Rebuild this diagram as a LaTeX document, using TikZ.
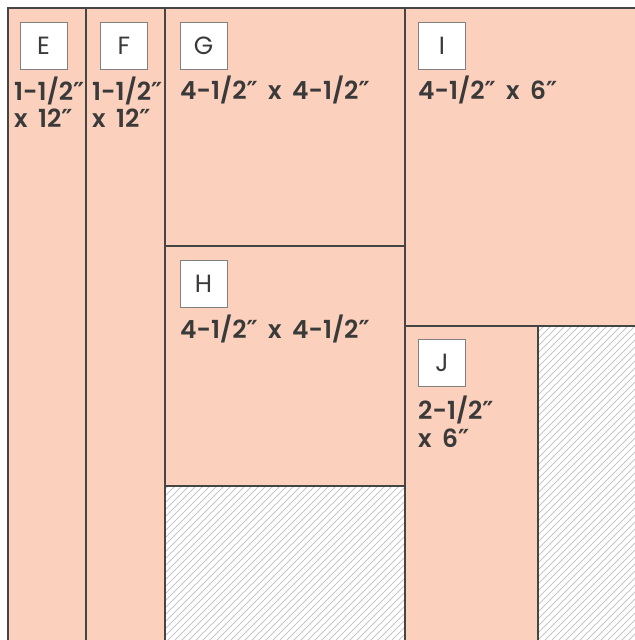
\documentclass[tikz,border=0pt]{standalone}
\usepackage{fontspec}
\setmainfont{Poppins}[BoldFont={Poppins SemiBold}]
\newfontfamily\primefont{DejaVu Sans}
\usetikzlibrary{positioning}
\definecolor{peach}{HTML}{FBD0BD}
\definecolor{edge}{HTML}{454545}
\definecolor{ink}{HTML}{3A3A3A}
\definecolor{hatch}{HTML}{C8C8C8}
\newcommand\inch{{\primefont ″}}
\newcommand\widespace{\spaceskip=0.42em\relax}

\begin{document}
\begin{tikzpicture}[
  x=1bp, y=-1bp,
  piece/.style={draw=edge, fill=peach, line width=1.2bp},
  tag/.style={draw=gray, fill=white, line width=0.8bp, minimum size=47bp, inner sep=0pt, font=\fontsize{25}{28}\selectfont, text=ink},
  dim/.style={anchor=base west, align=left, inner sep=0pt, font=\bfseries\fontsize{25}{28}\selectfont\widespace, text=ink},
  hatchline/.style={draw=hatch, line width=0.9bp},
]
\useasboundingbox (0,0) rectangle (635,640);

% Scrap (hatched)
\begin{scope}
  \clip (165,486) rectangle (405,641);
  \foreach \k in {-250,-243,...,250}
    \draw[hatchline] (165+\k,641) -- +(300,-300);
\end{scope}
\begin{scope}
  \clip (538,326) rectangle (636,641);
  \foreach \k in {-330,-323,...,110}
    \draw[hatchline] (538+\k,641) -- +(330,-330);
\end{scope}

% Pieces
\draw[piece] (8,8) rectangle (86,641);
\draw[piece] (86,8) rectangle (165,641);
\draw[piece] (165,8) rectangle (405,246);
\draw[piece] (165,246) rectangle (405,486);
\draw[piece] (405,8) rectangle (636,326);
\draw[piece] (405,326) rectangle (538,641);

% Tags
\node[tag] (tagE) at (43.5,45.5) {E};
\node[tag] (tagF) at (124,45.5) {F};
\node[tag] (tagG) at (203.5,45.5) {G};
\node[tag] (tagH) at (203.5,284) {H};
\node[tag] (tagI) at (442,45.5) {I};
\node[tag] (tagJ) at (442,363) {J};

% Sizes (base = last line)
\node[dim] (dimE) at (14,128) {1-1/2\inch\\x 12\inch};
\node[dim] (dimF) at (92,128) {1-1/2\inch\\x 12\inch};
\node[dim] (dimG) at (180,100) {4-1/2\inch{} x 4-1/2\inch};
\node[dim] (dimH) at (180,338) {4-1/2\inch{} x 4-1/2\inch};
\node[dim] (dimI) at (418,100) {4-1/2\inch{} x 6\inch};
\node[dim] (dimJ) at (418,447) {2-1/2\inch\\x 6\inch};

\end{tikzpicture}
\end{document}
